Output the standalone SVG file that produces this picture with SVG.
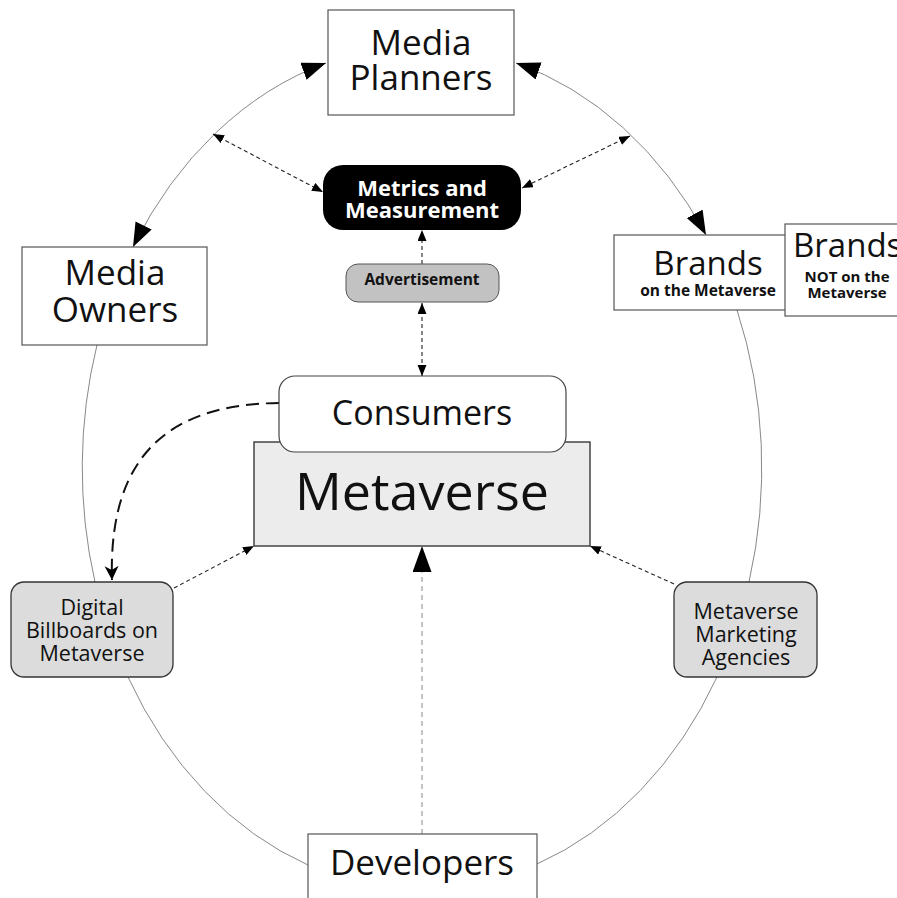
<svg xmlns="http://www.w3.org/2000/svg" width="897" height="898" viewBox="0 0 897 898">
<style>
text{font-family:"Open Sans","Noto Sans",sans-serif;fill:#111;text-anchor:middle}
.box{fill:#fff;stroke:#555;stroke-width:1.2}
.gbox{fill:#dcdcdc;stroke:#333;stroke-width:1.3}
.arc{fill:none;stroke:#888;stroke-width:1}
.dot{fill:none;stroke:#222;stroke-width:1.1;stroke-dasharray:4 3}
.big{font-size:35px}
.mid{font-size:21.5px}
.b{font-weight:bold}
</style>
<defs>
<marker id="ab" markerUnits="userSpaceOnUse" markerWidth="26" markerHeight="20" refX="24" refY="9" orient="auto-start-reverse"><path d="M0,0 L24,9 L0,18 z" fill="#000"/></marker>
<marker id="as" markerUnits="userSpaceOnUse" markerWidth="12" markerHeight="10" refX="11" refY="4.5" orient="auto-start-reverse"><path d="M0,0 L11,4.5 L0,9 z" fill="#000"/></marker>
<marker id="av" markerUnits="userSpaceOnUse" markerWidth="28" markerHeight="22" refX="26" refY="9.5" orient="auto"><path d="M0,0 L26,9.5 L0,19 z" fill="#000"/></marker>
<marker id="st" markerUnits="userSpaceOnUse" markerWidth="16" markerHeight="16" refX="14" refY="7" orient="auto"><path d="M0,0 L14,7 L0,14 L4,7 z" fill="#000"/></marker>
</defs>
<rect width="897" height="898" fill="#fff"/>
<g id="connectors">
<path class="arc" d="M133,247 A340,421 0 0,1 326,63" marker-start="url(#ab)" marker-end="url(#ab)"/>
<path class="arc" d="M516,63 A340,421 0 0,1 706,235" marker-start="url(#ab)" marker-end="url(#ab)"/>
<path class="arc" d="M737,310 A340,421 0 0,1 749,582"/>
<path class="arc" d="M717,677 A340,421 0 0,1 537,864"/>
<path class="arc" d="M308,865 A340,421 0 0,1 128,677"/>
<path class="arc" d="M95,582 A340,421 0 0,1 97,345"/>
<path class="dot" d="M213,134 L323,192" marker-start="url(#as)" marker-end="url(#as)"/>
<path class="dot" d="M630,136 L522,188" marker-start="url(#as)" marker-end="url(#as)"/>
<path class="dot" d="M422,264 L422,230" marker-end="url(#as)"/>
<path class="dot" d="M422,303 L422,376" marker-start="url(#as)" marker-end="url(#as)"/>
<path class="dot" d="M174,588 L254,546" marker-end="url(#as)"/>
<path class="dot" d="M674,584 L590,546" marker-end="url(#as)"/>
<path d="M422,834 L422,546" fill="none" stroke="#888" stroke-width="1" stroke-dasharray="5 4" marker-end="url(#av)"/>
<path d="M279,403 C175,404 108,450 112,580" fill="none" stroke="#111" stroke-width="2" stroke-dasharray="13 7" marker-end="url(#st)"/>
</g>
<g id="media-planners">
<rect class="box" x="328" y="10" width="186" height="105"/>
<text class="big" x="421" y="55">Media</text>
<text class="big" x="421" y="90">Planners</text>
</g>
<g id="metrics">
<rect x="323" y="165" width="198" height="65" rx="20" fill="#000"/>
<text class="b" x="422" y="196" font-size="22" style="fill:#fff">Metrics and</text>
<text class="b" x="422" y="218" font-size="22" style="fill:#fff">Measurement</text>
</g>
<g id="advertisement">
<rect x="346" y="264" width="153" height="38" rx="12" fill="#c2c2c2" stroke="#555" stroke-width="1"/>
<text class="b" x="422" y="285" font-size="15.5">Advertisement</text>
</g>
<g id="media-owners">
<rect class="box" x="22" y="247" width="185" height="98"/>
<text class="big" x="115" y="285">Media</text>
<text class="big" x="115" y="322">Owners</text>
</g>
<g id="brands">
<rect class="box" x="614" y="235" width="180" height="75"/>
<text x="708" y="275" font-size="33">Brands</text>
<text class="b" x="708" y="296" font-size="15.5">on the Metaverse</text>
</g>
<g id="brands-not">
<rect class="box" x="785" y="224" width="130" height="92"/>
<text x="793" y="257" font-size="33" style="text-anchor:start">Brands</text>
<text class="b" x="847" y="282" font-size="15">NOT on the</text>
<text class="b" x="847" y="298" font-size="15">Metaverse</text>
</g>
<g id="metaverse">
<rect x="254" y="442" width="336" height="104" fill="#ececec" stroke="#444" stroke-width="1.5"/>
<text x="422" y="510" font-size="52">Metaverse</text>
</g>
<g id="consumers">
<rect class="box" x="279" y="376" width="287" height="76" rx="16" style="stroke:#444"/>
<text x="422" y="425" font-size="34">Consumers</text>
</g>
<g id="digital-billboards">
<rect class="gbox" x="11" y="582" width="162" height="95" rx="13"/>
<text class="mid" x="92" y="615">Digital</text>
<text class="mid" x="92" y="638">Billboards on</text>
<text class="mid" x="92" y="661">Metaverse</text>
</g>
<g id="marketing-agencies">
<rect class="gbox" x="674" y="582" width="143" height="95" rx="13"/>
<text class="mid" x="746" y="619">Metaverse</text>
<text class="mid" x="746" y="642">Marketing</text>
<text class="mid" x="746" y="665">Agencies</text>
</g>
<g id="developers">
<rect class="box" x="308" y="834" width="229" height="80"/>
<text class="big" x="422" y="875">Developers</text>
</g>
</svg>
